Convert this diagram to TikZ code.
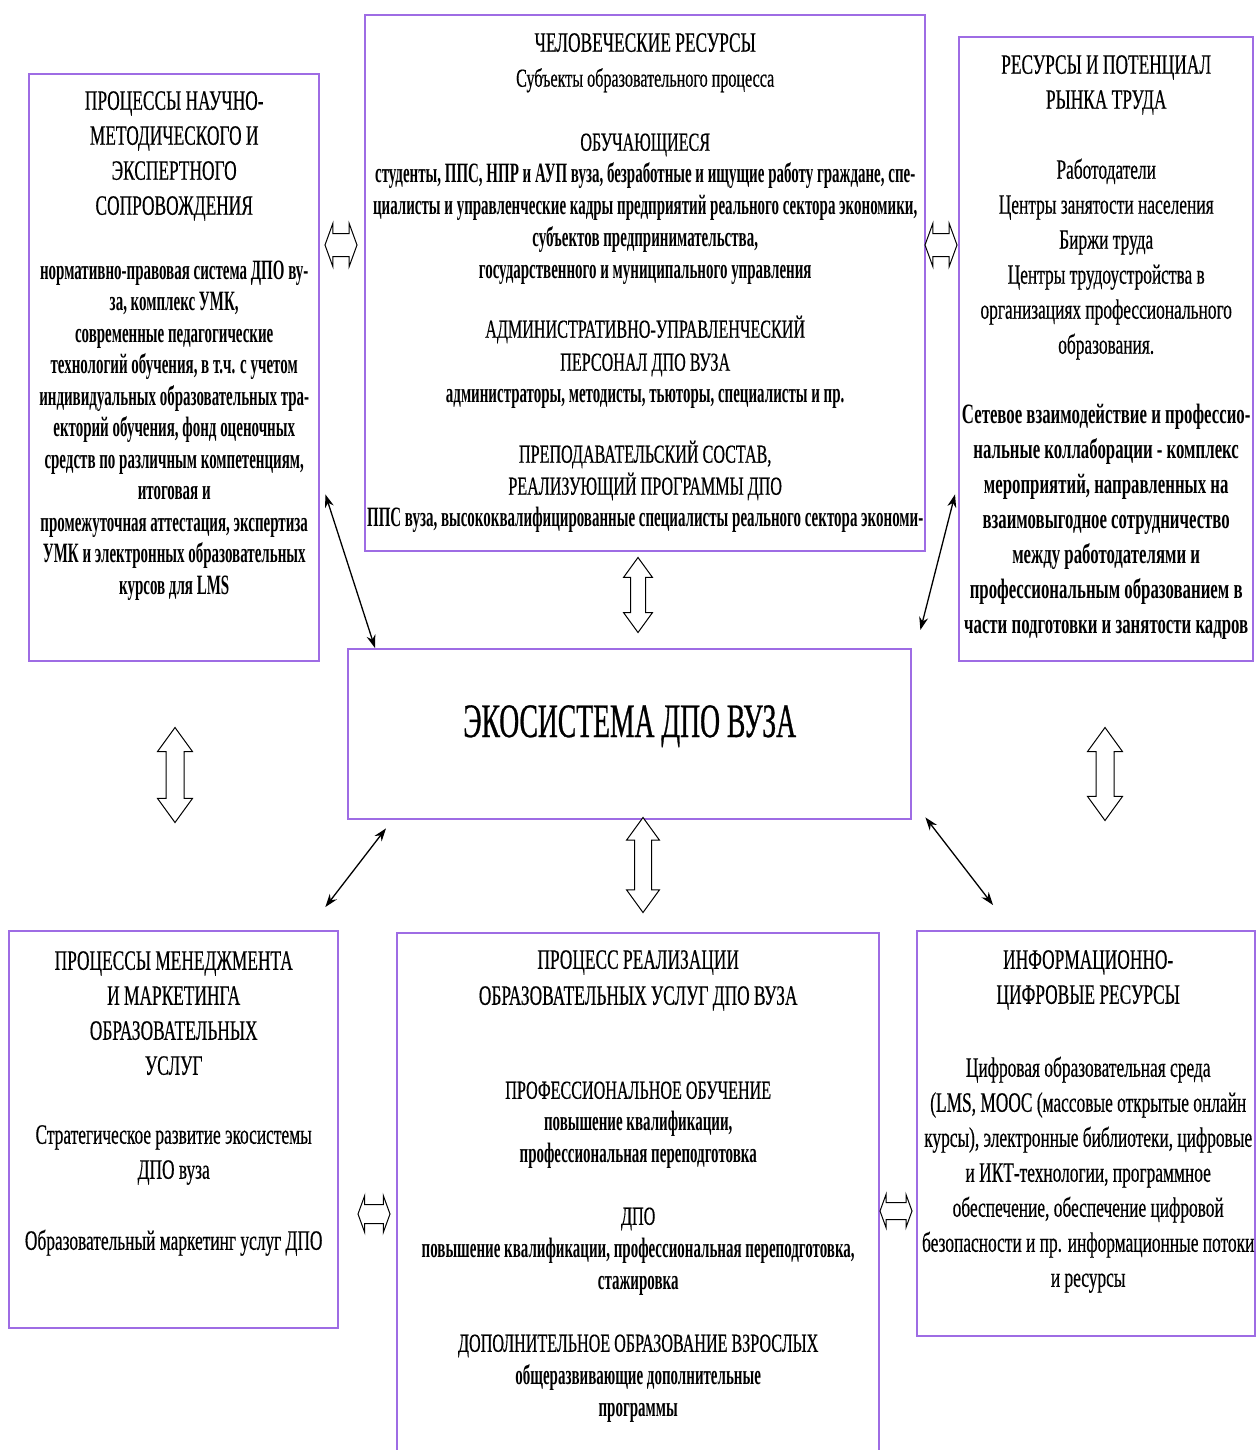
\documentclass[tikz,border=0pt]{standalone}
\usepackage{fontspec}
\setmainfont{Liberation Serif}[FakeStretch=0.62, UprightFeatures={FakeBold=0.4}, BoldFeatures={FakeStretch=0.60}]
\newfontfamily\titlefont{Liberation Serif}[FakeStretch=0.575, FakeBold=0.6]
\newfontfamily\tightfont{Liberation Serif}[FakeStretch=0.535]
\newcommand\tightbf[1]{{\tightfont\bfseries #1}}
\newcommand\subhead[1]{{\fontsize{26}{32}\selectfont #1}}
\usetikzlibrary{positioning,shapes.arrows,arrows.meta}
\definecolor{frame}{RGB}{158,108,228}

\tikzset{
  block/.style={draw=frame, line width=2.4pt, rectangle, inner sep=0pt, anchor=north west},
  blocktext/.style={align=center, inner sep=0pt, anchor=north, font=\fontsize{28}{32}\selectfont},
  bigtext/.style={blocktext, font=\fontsize{28}{35}\selectfont},
  vlink/.style={double arrow, draw, line width=1pt, fill=white, rotate=90, inner xsep=0pt,
    inner ysep=7pt, minimum height=75pt, double arrow head extend=7pt, double arrow tip angle=72},
  hlink/.style={double arrow, draw, line width=1pt, fill=white, inner xsep=0pt,
    inner ysep=11pt, minimum height=32pt, double arrow head extend=10pt, double arrow tip angle=140},
  link/.style={{Stealth[length=13pt,width=9pt]}-{Stealth[length=13pt,width=9pt]}, line width=1.3pt}
}

\begin{document}
\begin{tikzpicture}[x=1pt, y=-1pt]
  \useasboundingbox (0,0) rectangle (1255,1450);

  % blocks
  \node[block, minimum width=560pt, minimum height=536pt] (hr) at (364,14) {};
  \node[block, minimum width=290pt, minimum height=587pt] (sci) at (28,73) {};
  \node[block, minimum width=294pt, minimum height=624pt] (lab) at (958,36) {};
  \node[block, minimum width=563pt, minimum height=170pt] (eco) at (347,648) {};
  \node[block, minimum width=329pt, minimum height=397pt] (mgmt) at (8,930) {};
  \node[block, minimum width=482pt, minimum height=540pt] (proc) at (396,932) {};
  \node[block, minimum width=338pt, minimum height=405pt] (info) at (916,930) {};

  % texts
  \node[blocktext, below=19pt of hr.north] (hrtext) {ЧЕЛОВЕЧЕСКИЕ РЕСУРСЫ\\[3pt]
    \subhead{Субъекты образовательного процесса}\\[32pt]
    \subhead{ОБУЧАЮЩИЕСЯ}\\
    \tightbf{студенты, ППС, НПР и АУП вуза, безработные и ищущие работу граждане, спе-}\\
    \tightbf{циалисты и управленческие кадры предприятий реального сектора экономики,}\\
    \tightbf{субъектов предпринимательства,}\\
    \tightbf{государственного и муниципального управления}\\[27pt]
    \subhead{АДМИНИСТРАТИВНО-УПРАВЛЕНЧЕСКИЙ}\\[1pt]
    \subhead{ПЕРСОНАЛ ДПО ВУЗА}\\
    \tightbf{администраторы, методисты, тьюторы,  специалисты и пр.}\\[28pt]
    \subhead{ПРЕПОДАВАТЕЛЬСКИЙ СОСТАВ,}\\
    \subhead{РЕАЛИЗУЮЩИЙ ПРОГРАММЫ ДПО}\\
    \tightbf{ППС вуза, высококвалифицированные специалисты реального сектора экономи-}};

  \node[blocktext, font=\fontsize{28}{31.5}\selectfont, below=18pt of sci.north] (scitext) {ПРОЦЕССЫ НАУЧНО-\\[3.5pt]
    МЕТОДИЧЕСКОГО И\\[3.5pt]
    ЭКСПЕРТНОГО\\[3.5pt]
    СОПРОВОЖДЕНИЯ\\[33pt]
    \tightbf{нормативно-правовая система ДПО ву-}\\
    \tightbf{за,  комплекс УМК,}\\
    \tightbf{современные педагогические}\\
    \tightbf{технологий обучения, в т.ч. с учетом}\\
    \tightbf{индивидуальных образовательных тра-}\\
    \tightbf{екторий обучения, фонд оценочных}\\
    \tightbf{средств по различным компетенциям,}\\
    \tightbf{итоговая и}\\
    \tightbf{промежуточная аттестация, экспертиза}\\
    \tightbf{УМК и электронных образовательных}\\
    \tightbf{курсов для LMS}};

  \node[bigtext, below=19pt of lab.north] (labtext) {РЕСУРСЫ И ПОТЕНЦИАЛ\\
    РЫНКА ТРУДА\\[35pt]
    Работодатели\\
    Центры занятости населения\\
    Биржи труда\\
    Центры  трудоустройства в\\
    организациях профессионального\\
    образования.\\[35pt]
    \textbf{Сетевое взаимодействие и профессио-}\\
    \textbf{нальные коллаборации - комплекс}\\
    \textbf{мероприятий, направленных на}\\
    \textbf{взаимовыгодное сотрудничество}\\
    \textbf{между работодателями и}\\
    \textbf{профессиональным образованием в}\\
    \textbf{части подготовки и занятости кадров}};

  \node[font=\titlefont\fontsize{48}{56}\selectfont, inner sep=0pt]
    (ecotext) at ([yshift=8pt]eco.center) {ЭКОСИСТЕМА ДПО ВУЗА};

  \node[bigtext, below=21pt of mgmt.north] (mgmttext) {ПРОЦЕССЫ МЕНЕДЖМЕНТА\\
    И МАРКЕТИНГА\\
    ОБРАЗОВАТЕЛЬНЫХ\\
    УСЛУГ\\[34pt]
    Стратегическое развитие экосистемы\\
    ДПО вуза\\[36pt]
    Образовательный маркетинг услуг ДПО};

  \node[blocktext, below=18pt of proc.north] (proctext) {ПРОЦЕСС РЕАЛИЗАЦИИ\\[4pt]
    ОБРАЗОВАТЕЛЬНЫХ УСЛУГ ДПО ВУЗА\\[62pt]
    \subhead{ПРОФЕССИОНАЛЬНОЕ ОБУЧЕНИЕ}\\
    \tightbf{повышение квалификации,}\\
    \tightbf{профессиональная переподготовка}\\[30pt]
    \subhead{ДПО}\\[1pt]
    \tightbf{повышение квалификации, профессиональная переподготовка,}\\
    \tightbf{стажировка}\\[30pt]
    \subhead{ДОПОЛНИТЕЛЬНОЕ ОБРАЗОВАНИЕ ВЗРОСЛЫХ}\\[1pt]
    \tightbf{общеразвивающие дополнительные}\\
    \tightbf{программы}};

  \node[bigtext, below=20pt of info.north, xshift=2pt] (infotext) {ИНФОРМАЦИОННО-\\
    ЦИФРОВЫЕ РЕСУРСЫ\\[38pt]
    Цифровая образовательная среда\\
    (LMS, MOOC  (массовые открытые онлайн\\
    курсы), электронные библиотеки, цифровые\\
    и ИКТ-технологии, программное\\
    обеспечение, обеспечение цифровой\\
    безопасности  и пр. информационные потоки\\
    и ресурсы};

  % hollow two-way arrows
  \node[hlink] (scihr) at (341,245) {};
  \node[hlink] (hrlab) at (941,245) {};
  \node[vlink] (hreco) at (638,595) {};
  \node[vlink, minimum height=95pt, inner ysep=8pt, double arrow head extend=8pt] (ecoproc) at (643,865) {};
  \node[vlink, minimum height=95pt, inner ysep=8.5pt, double arrow head extend=8.5pt] (scimgmt) at (175,775) {};
  \node[vlink, minimum height=93pt, inner ysep=8.5pt, double arrow head extend=8.5pt] (labinfo) at (1105,774) {};
  \node[hlink, inner ysep=9pt, double arrow head extend=9pt] (mgmtproc) at (374,1214) {};
  \node[hlink, inner ysep=8pt, double arrow head extend=8pt] (procinfo) at (896,1211) {};

  % thin two-way arrows
  \coordinate (sciend) at ([shift={(5,-168)}]sci.south east);
  \coordinate (ecoA) at ([shift={(28,0)}]eco.north west);
  \coordinate (labend) at ([shift={(-3,-168)}]lab.south west);
  \coordinate (ecoB) at ([shift={(8,-18)}]eco.north east);
  \coordinate (ecoC) at ([shift={(39,8)}]eco.south west);
  \coordinate (mgmtend) at ([shift={(-14,-23)}]mgmt.north east);
  \coordinate (ecoD) at ([shift={(13,-3)}]eco.south east);
  \coordinate (infoend) at ([shift={(77,-25)}]info.north west);

  \draw[link] (sciend) -- (ecoA);
  \draw[link] (labend) -- (ecoB);
  \draw[link] (ecoC) -- (mgmtend);
  \draw[link] (ecoD) -- (infoend);
\end{tikzpicture}
\end{document}
